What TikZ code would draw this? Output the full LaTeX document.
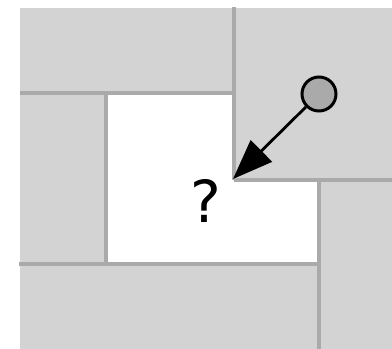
\documentclass[tikz,border=0pt]{standalone}
\usepackage{fontspec}
\setmainfont{DejaVu Sans}
\usetikzlibrary{arrows.meta}
\definecolor{tilefill}{HTML}{D3D3D3}
\definecolor{tileline}{HTML}{AAAAAA}
\begin{document}
\begin{tikzpicture}[x=1pt,y=-1pt,
  seam/.style={draw=tileline,line width=3.3pt},
  ball/.style={circle,draw=black,line width=3pt,fill=tileline,minimum size=34pt,inner sep=0pt},
  pointer/.style={line width=2.8pt,-{Triangle[length=40pt,width=30pt]}}]
\useasboundingbox (0,0) rectangle (392,349);
\fill[tilefill] (20,8) rectangle (392,349);
\fill[white] (106,93) -- (234,93) -- (234,180) -- (319,180) -- (319,264) -- (106,264) -- cycle;
\draw[seam] (234,7) -- (234,180);
\draw[seam] (20,93) -- (234,93);
\draw[seam] (106,93) -- (106,264);
\draw[seam] (234,180) -- (392,180);
\draw[seam] (319,180) -- (319,349);
\draw[seam] (19,264) -- (319,264);
\node[ball] (b) at (319,94) {};
\coordinate (t) at (233,179);
\draw[pointer] (b) -- (t);
\node[font=\fontsize{58}{60}\selectfont,inner sep=0pt] (q) at (206,201) {?};
\end{tikzpicture}
\end{document}
